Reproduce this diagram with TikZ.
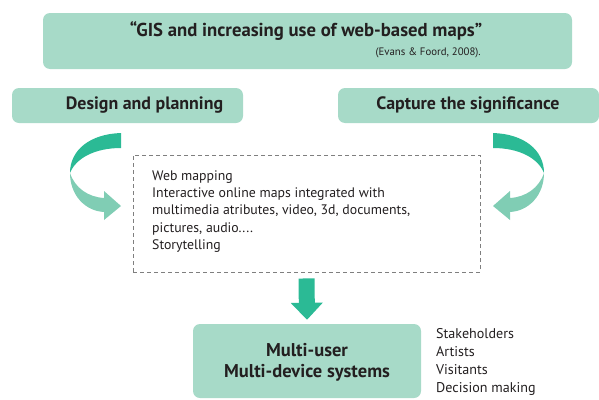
\documentclass[tikz,border=0pt]{standalone}
\usepackage{fontspec}
\setmainfont{PT Sans}
\usetikzlibrary{arrows.meta}
\definecolor{mintbox}{HTML}{A7DAC8}
\definecolor{arrowdark}{HTML}{2BBA95}
\definecolor{arrowlight}{HTML}{80CDB4}
\definecolor{inktext}{HTML}{231F20}
\definecolor{dashgray}{HTML}{7F7F7F}

\begin{document}
\begin{tikzpicture}[x=1pt, y=-1pt,
    mint/.style={fill=mintbox, rounded corners=7pt, inner sep=0pt},
    headtext/.style={font=\fontsize{17.9}{21}\selectfont\bfseries, text=inktext, align=center},
    bodytext/.style={font=\fontsize{13.8}{17.2}\selectfont, text=inktext, align=left, inner sep=0pt}]
    \useasboundingbox (0,0) rectangle (599,399);

    % Quote box
    \node[mint, minimum width=529pt, minimum height=56pt] (gis) at (307.5,41) {};
    \node[headtext, font=\fontsize{18.7}{21}\selectfont\bfseries] (gistitle) at (306,31) {“GIS and increasing use of web-based maps”};
    \node[font=\fontsize{10.8}{12}\selectfont, text=inktext, anchor=east, inner sep=0pt] (cite) at (481,53) {(Evans \& Foord, 2008).};

    % Two headings
    \node[mint, minimum width=231pt, minimum height=35pt] (design) at (127.5,105.5) {};
    \node[headtext] (designtext) at (144.5,105) {Design and planning};
    \node[mint, minimum width=261pt, minimum height=35pt] (capture) at (468.5,105.5) {};
    \node[headtext] (capturetext) at (468,105) {Capture the significance};

    % Dashed web mapping box
    \node[draw=dashgray, line width=0.9pt, dash pattern=on 4pt off 3pt, minimum width=347pt, minimum height=117pt] (web) at (306.5,213.5) {};
    \node[bodytext, anchor=west] (webtext) at (152,211.5) {Web mapping\\Interactive online maps integrated with\\multimedia atributes, video, 3d, documents,\\pictures, audio....\\Storytelling};

    % Bottom box
    \node[mint, minimum width=228pt, minimum height=74pt] (multi) at (307,361) {};
    \node[headtext, font=\fontsize{18.5}{21}\selectfont\bfseries] (multitext) at (307,362.5) {Multi-user\\Multi-device systems};
    \node[bodytext, font=\fontsize{14.1}{18}\selectfont, anchor=west] (users) at (436,362) {Stakeholders\\Artists\\Visitants\\Decision making};

    % Down arrow
    \draw[arrowdark, line width=16pt, -{Triangle[width=31pt,length=17pt]}] ([yshift=-6pt]web.south) -- ([yshift=4pt]multi.north);

    % Curved arrows, left one and its mirror
    \foreach \side/\mx in {1/0, -1/614} {
        \begin{scope}[xshift=\mx pt, xscale=\side]
            \fill[arrowdark] (121,133) .. controls (90,134) and (70,150) .. (70,173)
                .. controls (76,158) and (95,148) .. (121,148) -- cycle;
            \fill[arrowlight] (70,173) .. controls (70,195) and (85,211) .. (104,212)
                -- (104,220) -- (121,206) -- (104,191) -- (104,198)
                .. controls (88,197) and (75,188) .. (70,173) -- cycle;
        \end{scope}
    }
\end{tikzpicture}
\end{document}
